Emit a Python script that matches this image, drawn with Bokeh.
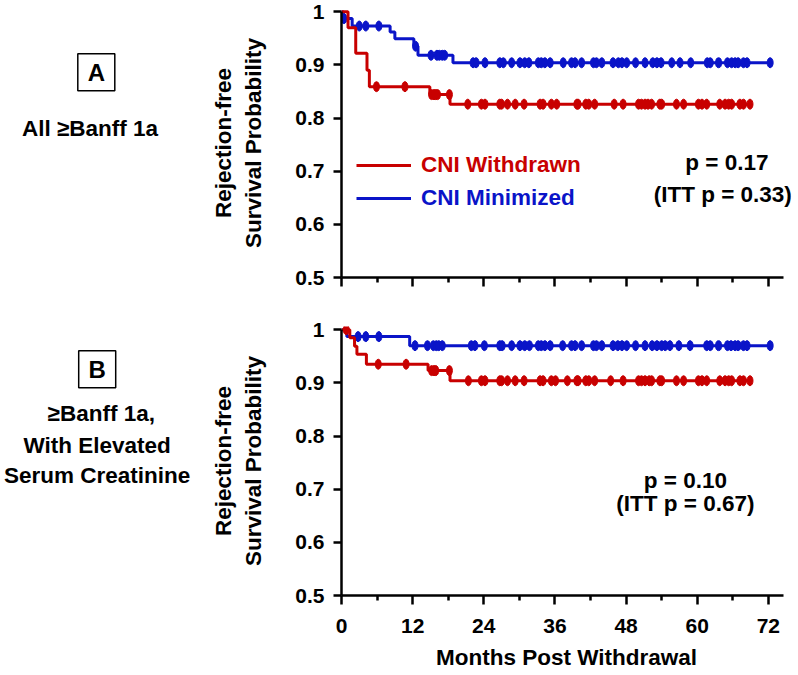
from bokeh.plotting import figure
from bokeh.layouts import row, column
from bokeh.models import Range1d, FixedTicker, Legend, LegendItem, Label
from bokeh.core.properties import value
from bokeh.embed import file_html
from bokeh.resources import INLINE

RED = "#C80000"
BLUE = "#0A14C8"
FONT = "Liberation Sans"
TXT = "22.5px"
TICK = "21px"

# ---------------- data ----------------
x_ticks = [0, 12, 24, 36, 48, 60, 72]
x_minor = [6, 18, 30, 42, 54, 66]
y_ticks = [0.5, 0.6, 0.7, 0.8, 0.9, 1.0]
y_tick_labels = ["0.5", "0.6", "0.7", "0.8", "0.9", "1"]

# Panel A: All >= Banff 1a
a_red_times = [0, 1.1, 2.4, 4.3, 4.7, 14.9, 18.3, 68.9]
a_red_surv = [1.0, 0.970, 0.922, 0.890, 0.859, 0.844, 0.826, 0.826]
a_red_censor = [5.9, 10.7, 15.2, 15.6, 15.9, 16.2, 18.2, 21.3, 23.6, 24.2, 26.7, 27.0,
                28.0, 29.3, 30.8, 33.5, 34.0, 35.4, 36.3, 39.7, 39.9, 41.2, 41.7, 42.7,
                46.0, 47.5, 50.1, 50.6, 51.2, 51.7, 52.3, 53.7, 54.0, 56.5, 57.7, 60.2,
                60.8, 61.6, 63.8, 64.7, 65.3, 65.8, 67.2, 67.8, 68.9]
a_blue_times = [0, 0.3, 1.8, 8.2, 9.0, 12.2, 12.9, 18.8, 72.3]
a_blue_surv = [1.0, 0.987, 0.973, 0.962, 0.949, 0.935, 0.918, 0.904, 0.904]
a_blue_censor = [0.4, 3.0, 4.1, 6.3, 12.5, 15.1, 16.1, 16.5, 17.0, 17.4, 22.2, 22.7,
                 24.2, 26.7, 27.3, 28.7, 30.1, 30.9, 31.6, 33.2, 33.7, 34.3, 35.2, 37.4,
                 38.8, 39.4, 40.5, 42.5, 43.0, 43.9, 45.8, 46.7, 47.3, 48.1, 49.6, 51.2,
                 52.5, 53.2, 53.9, 55.7, 57.1, 58.9, 61.7, 62.2, 63.6, 65.1, 65.8, 66.4,
                 66.9, 67.8, 68.4, 72.3]

# Panel B: >= Banff 1a with elevated serum creatinine
b_red_times = [0, 1.4, 2.2, 2.6, 4.2, 14.6, 18.3, 68.9]
b_red_surv = [1.0, 0.985, 0.969, 0.954, 0.935, 0.923, 0.904, 0.904]
b_red_censor = [0.8, 6.2, 10.9, 15.2, 15.6, 15.9, 18.2, 21.4, 23.6, 24.2, 26.7, 27.0,
                28.0, 29.3, 30.8, 33.5, 34.0, 35.4, 36.1, 38.1, 39.7, 39.9, 41.2, 41.7,
                42.7, 45.4, 47.5, 50.1, 50.6, 51.2, 51.9, 52.3, 53.7, 54.0, 56.5, 57.7,
                60.2, 60.8, 61.6, 63.8, 64.7, 65.3, 65.8, 67.2, 67.8, 68.9]
b_blue_times = [0, 0.9, 11.5, 72.3]
b_blue_surv = [1.0, 0.987, 0.970, 0.970]
b_blue_censor = [2.8, 4.1, 6.3, 12.4, 14.5, 15.5, 16.0, 16.4, 17.0, 21.9, 22.5, 24.1,
                 26.7, 27.1, 28.7, 30.1, 30.9, 31.7, 33.2, 33.7, 34.3, 35.2, 37.3, 38.8,
                 39.4, 40.5, 42.5, 43.0, 43.9, 45.8, 46.6, 47.3, 48.1, 49.6, 51.2, 52.4,
                 53.2, 54.0, 54.6, 55.4, 56.9, 58.8, 61.6, 62.2, 63.6, 65.1, 65.7, 66.4,
                 66.9, 67.8, 68.4, 72.3]

series_names = ["CNI Withdrawn", "CNI Minimized"]
a_pvals = ["p = 0.17", "(ITT p = 0.33)"]
b_pvals = ["p = 0.10", "(ITT p = 0.67)"]


def surv_at(t, times, surv):
    v = surv[0]
    for ti, si in zip(times, surv):
        if ti <= t:
            v = si
    return v


def make_panel(red_t, red_s, red_c, blue_t, blue_s, blue_c, pvals, p_xy,
               top, frame_h, bottom, xlabels, legend):
    p = figure(frame_width=450, frame_height=frame_h,
               min_border_left=132, min_border_right=8,
               min_border_top=top, min_border_bottom=bottom,
               x_range=Range1d(0, 75.9), y_range=Range1d(0.5, 1.006),
               output_backend="svg", toolbar_location=None)
    p.outline_line_color = None
    p.grid.visible = False

    blue_line = p.step(blue_t, blue_s, mode="after", line_color=BLUE, line_width=3)
    p.ellipse(blue_c, [surv_at(t, blue_t, blue_s) for t in blue_c],
              width=6, height=10, width_units="screen", height_units="screen",
              fill_color=BLUE, line_color=BLUE)
    red_line = p.step(red_t, red_s, mode="after", line_color=RED, line_width=3)
    p.ellipse(red_c, [surv_at(t, red_t, red_s) for t in red_c],
              width=6, height=10, width_units="screen", height_units="screen",
              fill_color=RED, line_color=RED)

    for ax in (p.xaxis, p.yaxis):
        ax.axis_line_width = 2.5
        ax.major_tick_line_width = 2.5
        ax.minor_tick_line_width = 2.5
        ax.major_tick_in = 0
        ax.minor_tick_in = 0
        ax.major_label_text_font = FONT
        ax.major_label_text_font_style = "bold"
        ax.major_label_text_font_size = TICK
        ax.major_label_text_color = "black"
        ax.axis_label_text_font = FONT
        ax.axis_label_text_font_style = "bold"
        ax.axis_label_text_font_size = TXT
        ax.axis_label_text_color = "black"

    p.xaxis.ticker = FixedTicker(ticks=x_ticks, minor_ticks=x_minor)
    p.xaxis.bounds = (0, 74.54)
    p.xaxis.major_tick_out = 9
    p.xaxis.minor_tick_out = 5
    if xlabels:
        p.xaxis.major_label_standoff = 14
        p.xaxis.axis_label = "Months Post Withdrawal"
        p.xaxis.axis_label_standoff = 9
    else:
        p.xaxis.major_label_overrides = {t: "" for t in x_ticks}

    p.yaxis.ticker = FixedTicker(ticks=y_ticks, minor_ticks=[])
    p.yaxis.bounds = (0.5, 1.0)
    p.yaxis.major_tick_out = 8
    p.yaxis.major_label_standoff = 9
    p.yaxis.major_label_overrides = dict(zip(y_ticks, y_tick_labels))
    p.yaxis.axis_label = "Rejection-free\nSurvival Probability"
    p.yaxis.axis_label_standoff = 26

    for txt, (x, y) in zip(pvals, p_xy):
        p.add_layout(Label(x=x, y=y, text=txt, text_align="center", text_baseline="middle",
                           text_font=FONT, text_font_style="bold", text_font_size=TXT,
                           text_color="black"))

    if legend:
        for name, rend, col, loc in ((series_names[0], red_line, RED, (15, 99)),
                                     (series_names[1], blue_line, BLUE, (15, 66))):
            lg = Legend(items=[LegendItem(label=name, renderers=[rend])], location=loc,
                        glyph_width=55, glyph_height=26, label_height=26, label_standoff=10,
                        padding=0, margin=0, border_line_color=None,
                        background_fill_alpha=0,
                        label_text_font=FONT, label_text_font_style="bold",
                        label_text_font_size=TXT, label_text_color=col)
            p.add_layout(lg)
    return p


pa = make_panel(a_red_times, a_red_surv, a_red_censor, a_blue_times, a_blue_surv, a_blue_censor,
                a_pvals, [(65.0, 0.717), (64.3, 0.656)], 8, 269, 39, False, True)
pb = make_panel(b_red_times, b_red_surv, b_red_censor, b_blue_times, b_blue_surv, b_blue_censor,
                b_pvals, [(58.0, 0.717), (58.0, 0.673)], 10, 269, 80, True, False)

# ---------------- left-hand panel captions ----------------
left = figure(width=208, height=675, x_range=Range1d(0, 208), y_range=Range1d(675, 0),
              min_border=0, x_axis_location=None, y_axis_location=None,
              output_backend="svg", toolbar_location=None)
left.outline_line_color = None
left.grid.visible = False

box_letters = ["A", "B"]
box_x = [95.8, 96.7]
box_y = [71.7, 368.7]
left.rect(box_x, box_y, width=37, height=37, fill_color=None, line_color="black", line_width=1.5)
left.text(box_x, box_y, text=box_letters, text_font=value(FONT), text_font_style="bold",
          text_font_size="24px", text_align="center", text_baseline="middle", text_color="black")

captions = ["All \u2265Banff 1a", "\u2265Banff 1a,", "With Elevated", "Serum Creatinine"]
cap_x = [89.5, 100.8, 96.7, 96.7]
cap_y = [128.3, 412.5, 445.0, 475.0]
left.text(cap_x, cap_y, text=captions, text_font=value(FONT), text_font_style="bold",
          text_font_size=TXT, text_align="center", text_baseline="middle", text_color="black")

layout = row(left, column(pa, pb))

open("out.html", "w").write(file_html(layout, INLINE))
